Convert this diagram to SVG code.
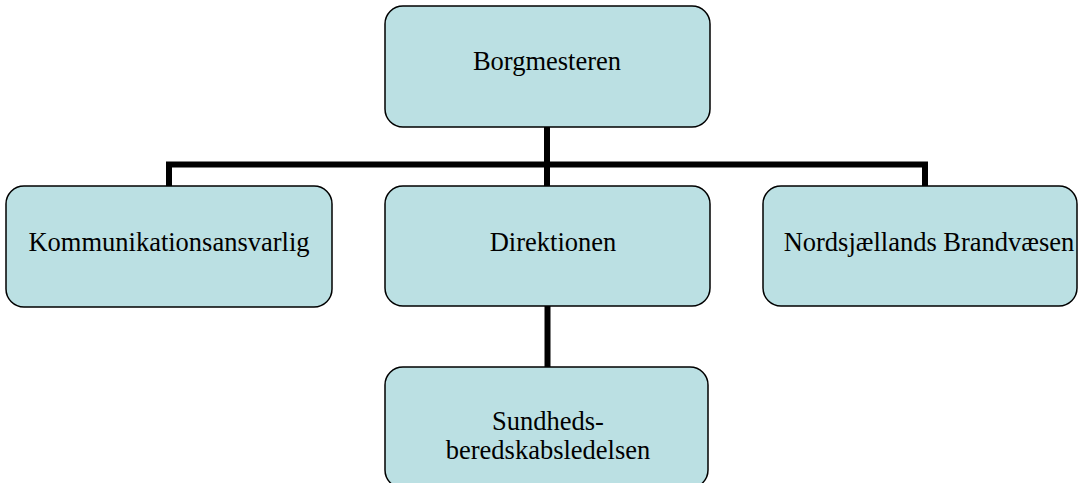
<svg xmlns="http://www.w3.org/2000/svg" width="1078" height="483" viewBox="0 0 1078 483">
<style>
.box{fill:#bbe0e3;stroke:#000;stroke-width:1.5}
.t{font-family:"Liberation Serif","Times New Roman",serif;font-size:26.5px;fill:#000;text-anchor:middle}
.c{fill:none;stroke:#000;stroke-width:6;stroke-linejoin:miter;stroke-linecap:butt}
</style>
<rect width="1078" height="483" fill="#fff"/>
<g id="connectors">
<line class="c" x1="547" y1="127" x2="547" y2="186"/>
<polyline class="c" points="169,186 169,164.5 925,164.5 925,186"/>
<line class="c" x1="547.5" y1="306" x2="547.5" y2="367"/>
</g>
<g id="borgmesteren">
<rect class="box" x="385" y="6" width="325" height="121" rx="18"/>
<text class="t" x="547" y="70">Borgmesteren</text>
</g>
<g id="kommunikation">
<rect class="box" x="6" y="186" width="326" height="121" rx="18"/>
<text class="t" x="169" y="250.5">Kommunikationsansvarlig</text>
</g>
<g id="direktionen">
<rect class="box" x="385" y="186" width="325" height="120" rx="18"/>
<text class="t" x="553" y="250.5">Direktionen</text>
</g>
<g id="brandvaesen">
<rect class="box" x="763" y="186" width="314" height="120" rx="18"/>
<text class="t" x="929" y="250.5">Nordsjællands Brandvæsen</text>
</g>
<g id="sundhed">
<rect class="box" x="385" y="367" width="323" height="121" rx="18"/>
<text class="t" x="548" y="430">Sundheds-</text>
<text class="t" x="548" y="458.5">beredskabsledelsen</text>
</g>
</svg>
